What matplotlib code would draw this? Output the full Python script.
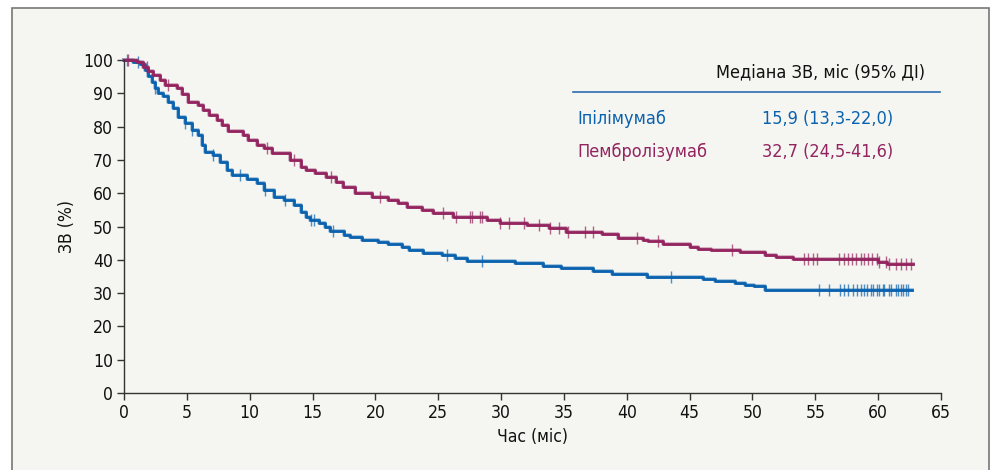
import matplotlib.pyplot as plt
import numpy as np
from matplotlib.patches import Rectangle

# Kaplan-Meier steps (months, % survival)
ipi_t = [0, 0.74, 1.27, 1.67, 1.94, 2.2, 2.47, 2.73, 3.13, 3.5, 3.9, 4.3, 4.85, 5.4, 5.9,
         6.2, 6.45, 7.1, 7.6, 8.2, 8.6, 9.8, 10.6, 11.1, 11.9, 12.7, 13.5, 14.1, 14.5, 14.8,
         15.5, 16.0, 16.4, 17.5, 18.0, 18.9, 20.2, 21.0, 22.1, 22.7, 23.8, 25.3, 26.3, 27.3,
         31.1, 33.3, 34.8, 37.3, 38.8, 41.6, 46.1, 47.0, 48.6, 49.4, 50.1, 51.0]
ipi_s = [100, 99.5, 98.7, 97, 95.3, 93.5, 91.5, 90, 89.3, 87.5, 85.5, 83, 81, 79, 77.5,
         74.5, 72.5, 71.5, 69.5, 67, 65.6, 64.3, 63, 61, 59, 58, 56.5, 54.5, 53, 52,
         51, 50, 48.7, 47.4, 46.8, 46, 45.4, 44.7, 43.9, 42.9, 42.1, 41.3, 40.4, 39.6,
         38.9, 38.2, 37.6, 36.7, 35.7, 34.9, 34.2, 33.6, 33.0, 32.5, 32.0, 30.9]
ipi_end = 62.7
ipi_cens = [0.2, 1.1, 2.5, 4.85, 5.4, 7.1, 9.2, 11.2, 12.8, 14.9, 15.1, 16.6, 25.7, 28.5, 43.5,
            55.3, 56.1, 57.0, 57.3, 57.6, 58.0, 58.3, 58.6, 58.9, 59.1, 59.4, 59.6, 59.9,
            60.1, 60.4, 60.5, 60.9, 61.0, 61.4, 61.6, 61.8, 62.0, 62.2, 62.4]

pem_t = [0, 1.0, 1.5, 1.9, 2.3, 2.9, 3.3, 4.2, 4.6, 5.1, 5.9, 6.3, 6.8, 7.4, 7.8, 8.3,
         9.5, 9.9, 10.6, 11.1, 11.75, 13.2, 14.1, 14.5, 15.2, 16.1, 16.9, 17.4, 18.4, 19.7,
         21.0, 21.8, 22.5, 23.7, 24.6, 26.2, 28.9, 29.9, 32.1, 33.8, 35.2, 38.0, 39.3, 41.3,
         41.7, 42.9, 45.0, 45.7, 46.7, 49.0, 51.0, 51.9, 53.2, 60.0, 60.7]
pem_s = [100, 99.3, 98, 96.7, 95.5, 94, 92.5, 91.5, 89.8, 87.5, 86.5, 85, 83.5, 82, 80.5, 78.7,
         77.5, 76, 74.5, 73.5, 72, 70, 68, 67, 66, 65, 63.5, 62, 60, 59,
         58, 57, 56, 55, 54.1, 53, 52, 51.1, 50.4, 49.5, 48.2, 47.7, 46.6, 46,
         45.7, 44.7, 43.7, 43.3, 42.8, 42.2, 41.4, 40.9, 40.1, 39.2, 38.7]
pem_end = 62.8
pem_cens = [0.3, 1.8, 3.5, 11.35, 13.5, 16.5, 20.4, 25.4, 26.4, 27.5, 27.7, 28.3, 28.5, 29.9,
            30.6, 31.8, 33.0, 33.9, 34.6, 35.3, 36.7, 37.3, 40.8, 42.5, 48.4,
            54.1, 54.4, 54.8, 55.1, 56.9, 57.3, 57.6, 57.9, 58.2, 58.6, 58.9, 59.2, 59.5,
            59.9, 60.1, 60.6, 60.9, 61.4, 61.8, 62.2, 62.6]

xticks = list(range(0, 70, 5))
yticks = list(range(0, 110, 10))

blue = '#0a62ae'
purple = '#93245f'
fnt = dict(family='DejaVu Sans', stretch='condensed')

fig = plt.figure(figsize=(9.99, 4.70), dpi=100)
fig.patch.set_facecolor('white')
fig.patches.append(Rectangle((12/999, -0.01), (989-12)/999, (470-8)/470 + 0.01,
                             transform=fig.transFigure, facecolor='#f5f5f1',
                             edgecolor='#777777', linewidth=1.2, zorder=-5))

ax = fig.add_axes([124/999, 1-393/470, (941-124)/999, (393-60)/470])
ax.set_facecolor('none')


def km(ax, t, s, end, cens, color):
    tt = list(t) + [end]
    ss = list(s) + [s[-1]]
    ax.step(tt, ss, where='post', color=color, lw=2.8, alpha=0.35, clip_on=False)
    ax.step(tt, ss, where='post', color=color, lw=2.0, clip_on=False)
    idx = np.searchsorted(np.array(t), np.array(cens), side='right') - 1
    cy = np.array(s)[idx]
    ax.plot(cens, cy, ls='none', marker='|', ms=9, mew=1.0, color=color, alpha=0.7,
            clip_on=False)


km(ax, ipi_t, ipi_s, ipi_end, ipi_cens, blue)
km(ax, pem_t, pem_s, pem_end, pem_cens, purple)

ax.set_xlim(0, 65)
ax.set_ylim(0, 100)
ax.set_xticks(xticks)
ax.set_yticks(yticks)
for sp in ['top', 'right']:
    ax.spines[sp].set_visible(False)
for sp in ['left', 'bottom']:
    ax.spines[sp].set_color('#333333')
    ax.spines[sp].set_linewidth(1.0)
ax.tick_params(length=5, width=1, color='#333333', pad=3, labelsize=12.6,
               labelcolor='#111111')
for lb in ax.get_xticklabels() + ax.get_yticklabels():
    lb.set_family('DejaVu Sans')
    lb.set_stretch('condensed')

ax.set_xlabel('Час (міс)', fontsize=12.6, labelpad=4, color='#111111', **fnt)
ax.set_ylabel('ЗВ (%)', fontsize=12.6, labelpad=5, color='#111111', **fnt)

# median table
fig.text(925/999, 1-72/470, 'Медіана ЗВ, міс (95% ДІ)', ha='right', va='center',
         fontsize=13, color='#111111', **fnt)
fig.add_artist(plt.Line2D([573/999, 940/999], [1-92/470, 1-92/470],
                          transform=fig.transFigure, color='#2a6db0', lw=1.2))
fig.text(577/999, 1-119/470, 'Іпілімумаб', ha='left', va='center', fontsize=13,
         color=blue, **fnt)
fig.text(893/999, 1-119/470, '15,9 (13,3-22,0)', ha='right', va='center', fontsize=13,
         color=blue, **fnt)
fig.text(577/999, 1-152/470, 'Пембролізумаб', ha='left', va='center', fontsize=13,
         color=purple, **fnt)
fig.text(893/999, 1-152/470, '32,7 (24,5-41,6)', ha='right', va='center', fontsize=13,
         color=purple, **fnt)

fig.savefig('out.png', dpi=100, facecolor=fig.get_facecolor())
